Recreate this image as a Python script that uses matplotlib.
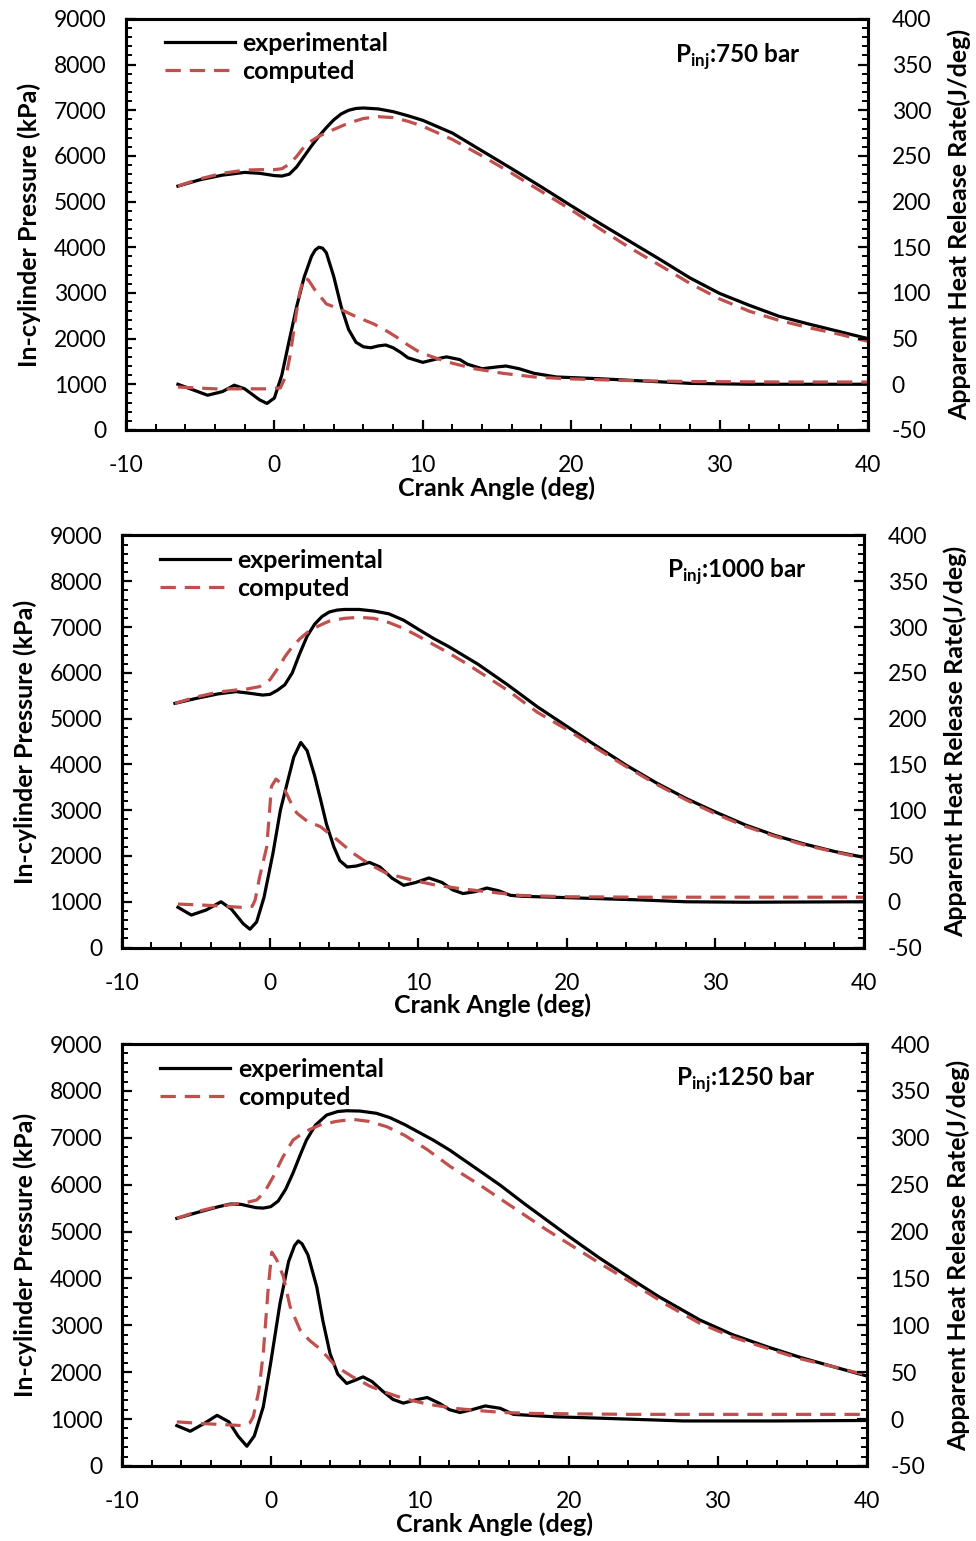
import numpy as np
import matplotlib
matplotlib.use("Agg")
import matplotlib.pyplot as plt
from matplotlib.ticker import MultipleLocator

plt.rcParams['font.family'] = ['Lato', 'DejaVu Sans']
plt.rcParams['mathtext.fontset'] = 'custom'
plt.rcParams['mathtext.rm'] = 'Lato'
plt.rcParams['mathtext.bf'] = 'Lato:bold'
plt.rcParams['axes.unicode_minus'] = False

RED = "#C0504D"

# ---- panel 1 : Pinj 750 bar ----
p1_exp_x = [-6.5, -5, -3.5, -2, -1, 0, 0.5, 1, 1.5, 2, 2.5, 3, 3.5, 4, 4.5, 5, 5.5, 6, 7, 8, 9, 10,
            12, 14, 16, 18, 20, 22, 24, 26, 28, 30, 32, 34, 36, 38, 40]
p1_exp_p = [5340, 5480, 5580, 5640, 5620, 5570, 5560, 5600, 5760, 5990, 6220, 6430, 6620, 6790, 6920,
            7000, 7040, 7050, 7030, 6970, 6880, 6780, 6500, 6110, 5720, 5320, 4910, 4510, 4120, 3730,
            3330, 2990, 2730, 2490, 2320, 2160, 2000]
p1_cmp_x = [-6.5, -5, -3.5, -2, -1, 0, 0.5, 1, 1.5, 2, 2.5, 3, 3.5, 4, 5, 6, 7, 8, 9, 10,
            12, 14, 16, 18, 20, 22, 24, 26, 28, 30, 32, 34, 36, 38, 40]
p1_cmp_p = [5340, 5500, 5620, 5690, 5700, 5700, 5720, 5820, 5990, 6200, 6330, 6430, 6510, 6580, 6720,
            6820, 6860, 6840, 6760, 6650, 6360, 6000, 5620, 5220, 4820, 4390, 3980, 3600, 3210, 2870,
            2600, 2400, 2240, 2100, 1940]
p1_hr_exp_x = [-6.5, -5.5, -4.5, -3.5, -2.7, -2, -1, -0.5, 0, 0.5, 1, 1.5, 2, 2.5, 2.75, 3, 3.25, 3.5,
               4, 4.5, 5, 5.5, 6, 6.5, 7, 7.5, 8, 8.5, 9, 10, 11, 11.6, 12.5, 13, 14, 15, 15.6, 16.5,
               17.5, 19, 22, 25, 28, 32, 36, 40]
p1_hr_exp = [0, -6, -12, -8, -1, -5, -17, -21, -15, 10, 48, 85, 117, 140, 147, 150, 149, 144, 118, 85,
             60, 46, 41, 40, 42, 43, 40, 35, 29, 24, 28, 30, 27, 22, 17, 19, 20, 17, 12, 8, 6, 3.5,
             1, 0, 0, 0]
p1_hr_cmp_x = [-6.5, -4, -2, -0.5, 0.4, 0.8, 1.1, 1.4, 1.7, 2.0, 2.3, 2.7, 3.1, 3.5, 4.6, 5.5, 6.7,
               7.5, 8.2, 9, 9.8, 11, 12, 13.5, 15.4, 17.5, 19.7, 24, 28, 34, 40]
p1_hr_cmp = [-3, -5, -5, -5, -4, 10, 35, 70, 100, 117, 114, 104, 96, 88, 81, 74, 66, 59, 52, 43, 35,
             28, 23, 17, 12, 8, 6, 4, 3, 2.5, 2.5]

# ---- panel 2 : Pinj 1000 bar ----
p2_exp_x = [-6.4, -5, -3.5, -2.3, -1.5, -0.5, 0, 0.5, 1, 1.5, 2, 2.5, 3, 3.5, 4, 4.5, 5, 6, 7, 8, 9,
            10, 11, 12, 14, 16, 18, 20, 22, 24, 26, 28, 30, 32, 34, 36, 38, 40]
p2_exp_p = [5334, 5440, 5540, 5590, 5560, 5515, 5530, 5620, 5740, 6000, 6420, 6800, 7060, 7230, 7330,
            7370, 7385, 7385, 7350, 7290, 7150, 6950, 6754, 6580, 6190, 5740, 5260, 4830, 4400, 3980,
            3600, 3260, 2960, 2680, 2450, 2260, 2100, 1970]
p2_cmp_x = [-6.4, -5, -3.5, -2.3, -1.5, -0.7, 0, 0.6, 1, 1.5, 2, 2.5, 3, 3.5, 4, 5, 6, 7, 8, 9, 10,
            12, 13.2, 14, 16, 18, 20, 22, 24, 26, 28, 30, 32, 34, 36, 38, 40]
p2_cmp_p = [5334, 5470, 5580, 5625, 5650, 5700, 5850, 6134, 6350, 6570, 6740, 6880, 6980, 7060, 7130,
            7190, 7213, 7190, 7100, 6970, 6800, 6440, 6208, 6040, 5620, 5140, 4760, 4350, 3950, 3570,
            3230, 2920, 2650, 2430, 2240, 2090, 1950]
p2_hr_exp_x = [-6.2, -5.3, -4.3, -3.3, -2.6, -1.8, -1.35, -0.9, -0.4, 0.2, 0.7, 1.1, 1.6, 2.07, 2.5,
               3, 3.4, 3.8, 4.3, 4.7, 5.2, 5.8, 6.7, 7.4, 8.2, 9, 9.8, 10.7, 11.6, 12.3, 13, 13.8,
               14.6, 15.4, 16.2, 17, 20, 25, 28, 32, 40]
p2_hr_exp = [-6, -14.5, -9, 0, -8, -24, -30, -22, 5, 53, 100, 126, 158, 174, 165, 138, 112, 85, 60,
             45, 38, 39, 43, 38, 26, 18, 21, 26, 21, 13, 9, 11, 15, 12, 7, 6, 4.5, 2, 0, -0.5, 0]
p2_hr_cmp_x = [-6.2, -4, -2, -1.2, -1.0, -0.7, -0.22, 0.1, 0.4, 0.7, 1.12, 1.5, 1.8, 2.5, 3.4, 4.5,
               5.6, 6.7, 7.85, 9.5, 11.2, 13, 14.6, 16.8, 20, 25, 30, 40]
p2_hr_cmp = [-2.5, -4, -6, -5, 2, 27, 60, 126, 134, 130, 118, 105, 97, 88, 82, 68, 53, 41, 31, 24,
             18, 14, 11, 7, 5.5, 5, 5, 5]

# ---- panel 3 : Pinj 1250 bar ----
p3_exp_x = [-6.3, -5, -3.5, -2.7, -2, -1, -0.5, 0, 0.5, 1, 1.5, 2, 2.4, 3, 3.76, 4.5, 5.1, 6, 7.1, 8,
            9, 10.9, 12, 14, 15.4, 17, 18.5, 20, 22, 24.3, 26, 28.8, 31, 33.3, 35.5, 37.75, 40]
p3_exp_p = [5282, 5400, 5530, 5588, 5580, 5510, 5500, 5530, 5650, 5900, 6250, 6650, 6952, 7270, 7486,
            7560, 7577, 7570, 7522, 7430, 7280, 6952, 6740, 6300, 5990, 5600, 5250, 4900, 4450, 3967,
            3620, 3114, 2800, 2544, 2320, 2118, 1919]
p3_cmp_x = [-6.3, -5, -3.5, -2.06, -1.5, -0.94, -0.4, 0.17, 0.8, 1.5, 2.3, 3.3, 4.4, 5.5, 6.6, 7.8, 9,
            10.5, 12.07, 14, 15.4, 17, 18.5, 20, 22, 24.3, 26.5, 28.8, 31, 33.3, 35.5, 37.75, 40]
p3_cmp_p = [5282, 5420, 5540, 5602, 5630, 5673, 5850, 6170, 6580, 6952, 7130, 7272, 7350, 7394, 7350,
            7236, 7050, 6750, 6383, 6000, 5700, 5360, 5040, 4740, 4340, 3896, 3450, 3043, 2750, 2510,
            2290, 2118, 1940]
p3_hr_exp_x = [-6.3, -5.4, -4.5, -3.6, -2.8, -2.2, -1.6, -1.1, -0.5, 0, 0.62, 1.2, 1.6, 1.85, 2.1,
               2.5, 3.09, 3.5, 3.98, 4.5, 5.1, 5.6, 6.2, 6.8, 7.5, 8.2, 8.9, 9.6, 10.5, 11.3, 12,
               12.7, 13.5, 14.4, 15.4, 16.3, 19, 22, 27.7, 34, 40]
p3_hr_exp = [-7, -13, -5, 4, -3, -18, -29, -18, 13, 60, 123, 168, 185, 190, 187, 175, 141, 105, 70,
             48, 38, 41, 45, 40, 30, 21, 17, 20, 23, 17, 10, 7, 10, 14, 11.5, 5, 2.5, 1, -2, -2, -1.5]
p3_hr_cmp_x = [-6.3, -4.3, -1.84, -1.4, -1.17, -0.8, -0.5, -0.16, 0.07, 0.4, 0.85, 1.3, 1.97, 2.6,
               3.3, 4.4, 5.5, 6.67, 7.8, 8.9, 10.5, 12.3, 14, 15.6, 17.6, 24.3, 32, 40]
p3_hr_cmp = [-3, -5, -7, -4, 2.5, 30, 70, 141, 178, 170, 152, 120, 95, 84, 75, 56, 45, 35, 28, 22, 16,
             11.5, 9, 7, 6, 5, 5, 5]

panels = [
    dict(rect=[0.1291, 0.7210, 0.7602, 0.2667], label="750",
         exp=(p1_exp_x, p1_exp_p), cmp=(p1_cmp_x, p1_cmp_p),
         hre=(p1_hr_exp_x, p1_hr_exp), hrc=(p1_hr_cmp_x, p1_hr_cmp), txt=(0.825, 0.908)),
    dict(rect=[0.1245, 0.3851, 0.7607, 0.2674], label="1000",
         exp=(p2_exp_x, p2_exp_p), cmp=(p2_cmp_x, p2_cmp_p),
         hre=(p2_hr_exp_x, p2_hr_exp), hrc=(p2_hr_cmp_x, p2_hr_cmp), txt=(0.829, 0.911)),
    dict(rect=[0.1247, 0.0487, 0.7633, 0.2738], label="1250",
         exp=(p3_exp_x, p3_exp_p), cmp=(p3_cmp_x, p3_cmp_p),
         hre=(p3_hr_exp_x, p3_hr_exp), hrc=(p3_hr_cmp_x, p3_hr_cmp), txt=(0.838, 0.915)),
]

fig = plt.figure(figsize=(9.76, 15.41), dpi=100)
LW = 2.3
DASH = (4.8, 2.8)
TICK_FS = 16.5
LAB_FS = 18

for pn in panels:
    ax = fig.add_axes(pn["rect"])
    ax2 = ax.twinx()
    ax.plot(*pn["exp"], color="black", lw=LW, label="experimental")
    ax.plot(*pn["cmp"], color=RED, lw=LW, ls=(0, DASH), label="computed")
    ax2.plot(*pn["hre"], color="black", lw=LW)
    ax2.plot(*pn["hrc"], color=RED, lw=LW, ls=(0, DASH))

    ax.set_xlim(-10, 40)
    ax.set_ylim(0, 9000)
    ax2.set_ylim(-50, 400)
    ax.xaxis.set_major_locator(MultipleLocator(10))
    ax.xaxis.set_minor_locator(MultipleLocator(2))
    ax.yaxis.set_major_locator(MultipleLocator(1000))
    ax.yaxis.set_minor_locator(MultipleLocator(200))
    ax2.yaxis.set_major_locator(MultipleLocator(50))
    ax2.yaxis.set_minor_locator(MultipleLocator(10))

    for a in (ax, ax2):
        for s in a.spines.values():
            s.set_linewidth(2.2)
    ax.tick_params(axis="both", which="major", direction="in", length=7, width=1.6,
                   labelsize=TICK_FS, pad=14)
    ax.tick_params(axis="x", which="major", pad=18)
    ax.tick_params(axis="both", which="minor", direction="in", length=4.5, width=1.4)
    ax2.tick_params(axis="y", which="major", direction="in", length=7, width=1.6,
                    labelsize=TICK_FS, pad=17)
    ax2.tick_params(axis="y", which="minor", direction="in", length=4.5, width=1.4)

    ax.set_xlabel("Crank Angle (deg)", fontsize=LAB_FS, fontweight="bold", labelpad=0)
    ax.set_ylabel("In-cylinder Pressure (kPa)", fontsize=LAB_FS, fontweight="bold", labelpad=9)
    ax2.set_ylabel("Apparent Heat Release Rate(J/deg)", fontsize=LAB_FS, fontweight="bold",
                   labelpad=12)

    ax.legend(loc="upper left", bbox_to_anchor=(0.052, 0.968), frameon=False, borderaxespad=0,
              borderpad=0, handlelength=2.8, handletextpad=0.3, labelspacing=0.2,
              prop={"size": 18, "weight": "bold"})
    ax.text(pn["txt"][0], pn["txt"][1], r"P$_{\mathbf{inj}}$:" + pn["label"] + " bar",
            transform=ax.transAxes, ha="center", va="center", fontsize=17.5, fontweight="bold")

fig.savefig("out.png", dpi=100)
